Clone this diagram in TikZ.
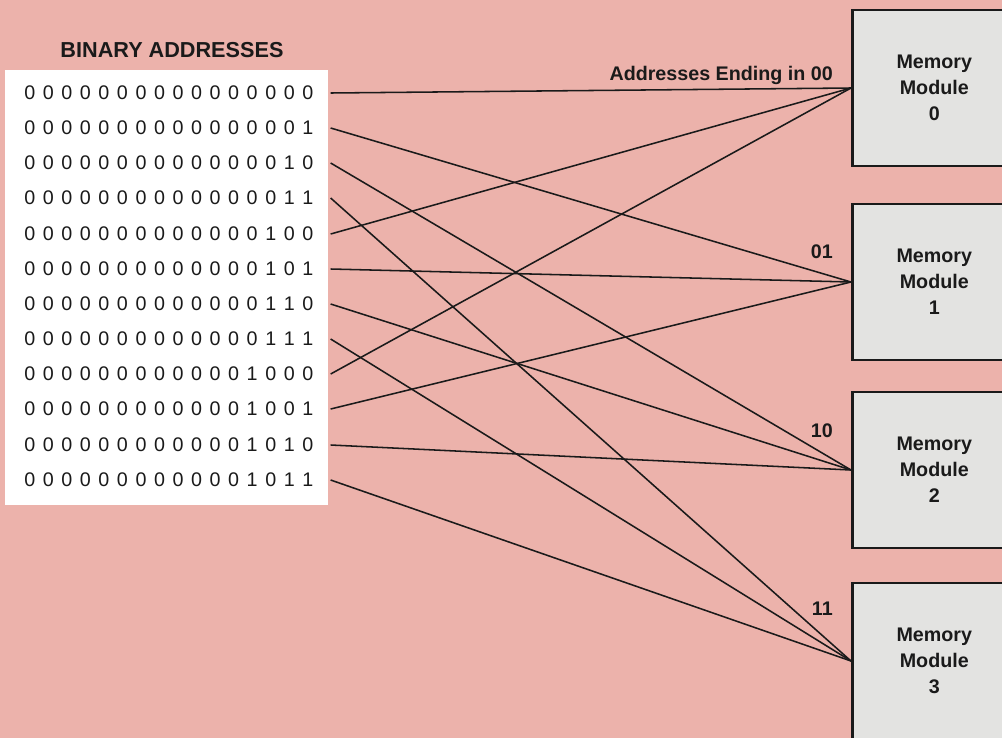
\documentclass[tikz,border=0pt]{standalone}
\usepackage{fontspec}
\setmainfont{Liberation Sans}
\usetikzlibrary{positioning}
\definecolor{SheetPink}{HTML}{ECB2AB}
\definecolor{ModuleGrey}{HTML}{E3E3E1}
\definecolor{InkBlack}{HTML}{1A1A1A}

% digits set with a fixed gap between them
\newdimen\bitgap \bitgap=5.4pt
\def\bitfirst#1{#1\bitloop}
\def\bitloop#1{\ifx#1\relax\else\kern\bitgap#1\expandafter\bitloop\fi}
\newcommand\bitstring[1]{\bitfirst#1\relax}

\tikzset{
    bitrow/.style={
        anchor=west,
        inner sep=0pt,
        text width=7.65cm,
        align=left,
        text=InkBlack,
        font=\fontsize{14}{16}\selectfont
    },
    heading/.style={
        anchor=base,
        inner sep=0pt,
        text=InkBlack,
        font=\bfseries\fontsize{15.4}{18}\selectfont
    },
    modulebox/.style={
        draw=InkBlack,
        line width=1.8pt,
        fill=ModuleGrey,
        anchor=west,
        minimum width=4.1cm,
        minimum height=3.9cm,
        text=InkBlack,
        align=center,
        font=\bfseries\fontsize{14}{18.5}\selectfont
    },
    tag/.style={
        anchor=base east,
        inner sep=0pt,
        text=InkBlack,
        font=\bfseries\fontsize{14}{16}\selectfont
    },
    wire/.style={
        line width=1.1pt,
        InkBlack
    }
}

\begin{document}
\begin{tikzpicture}[x=0.025cm, y=-0.025cm]
    \fill[SheetPink] (0,0) rectangle (1002,738);
    \useasboundingbox (0,0) rectangle (1002,738);

    % address table
    \node[heading] (title) at (172,57) {BINARY ADDRESSES};
    \fill[white] (5,70) rectangle (328,505);
    \node[bitrow] (a0) at (24,93) {\bitstring{0000000000000000}};
    \node[bitrow] (a1) at (24,128) {\bitstring{0000000000000001}};
    \node[bitrow] (a2) at (24,163) {\bitstring{0000000000000010}};
    \node[bitrow] (a3) at (24,198) {\bitstring{0000000000000011}};
    \node[bitrow] (a4) at (24,234) {\bitstring{0000000000000100}};
    \node[bitrow] (a5) at (24,269) {\bitstring{0000000000000101}};
    \node[bitrow] (a6) at (24,304) {\bitstring{0000000000000110}};
    \node[bitrow] (a7) at (24,339) {\bitstring{0000000000000111}};
    \node[bitrow] (a8) at (24,374) {\bitstring{0000000000001000}};
    \node[bitrow] (a9) at (24,409) {\bitstring{0000000000001001}};
    \node[bitrow] (a10) at (24,445) {\bitstring{0000000000001010}};
    \node[bitrow] (a11) at (24,480) {\bitstring{0000000000001011}};

    % memory modules
    \node[modulebox] (m0) at (851,88) {Memory\\Module\\0};
    \node[modulebox] (m1) at (851,282) {Memory\\Module\\1};
    \node[modulebox] (m2) at (851,470) {Memory\\Module\\2};
    \node[modulebox] (m3) at (851,661) {Memory\\Module\\3};

    \node[tag] (t0) at (833,80) {Addresses Ending in 00};
    \node[tag] (t1) at (833,258) {01};
    \node[tag] (t2) at (833,437) {10};
    \node[tag] (t3) at (833,615) {11};

    \draw[wire] (a0.east) -- (m0.west);
    \draw[wire] (a1.east) -- (m1.west);
    \draw[wire] (a2.east) -- (m2.west);
    \draw[wire] (a3.east) -- (m3.west);
    \draw[wire] (a4.east) -- (m0.west);
    \draw[wire] (a5.east) -- (m1.west);
    \draw[wire] (a6.east) -- (m2.west);
    \draw[wire] (a7.east) -- (m3.west);
    \draw[wire] (a8.east) -- (m0.west);
    \draw[wire] (a9.east) -- (m1.west);
    \draw[wire] (a10.east) -- (m2.west);
    \draw[wire] (a11.east) -- (m3.west);
\end{tikzpicture}
\end{document}
